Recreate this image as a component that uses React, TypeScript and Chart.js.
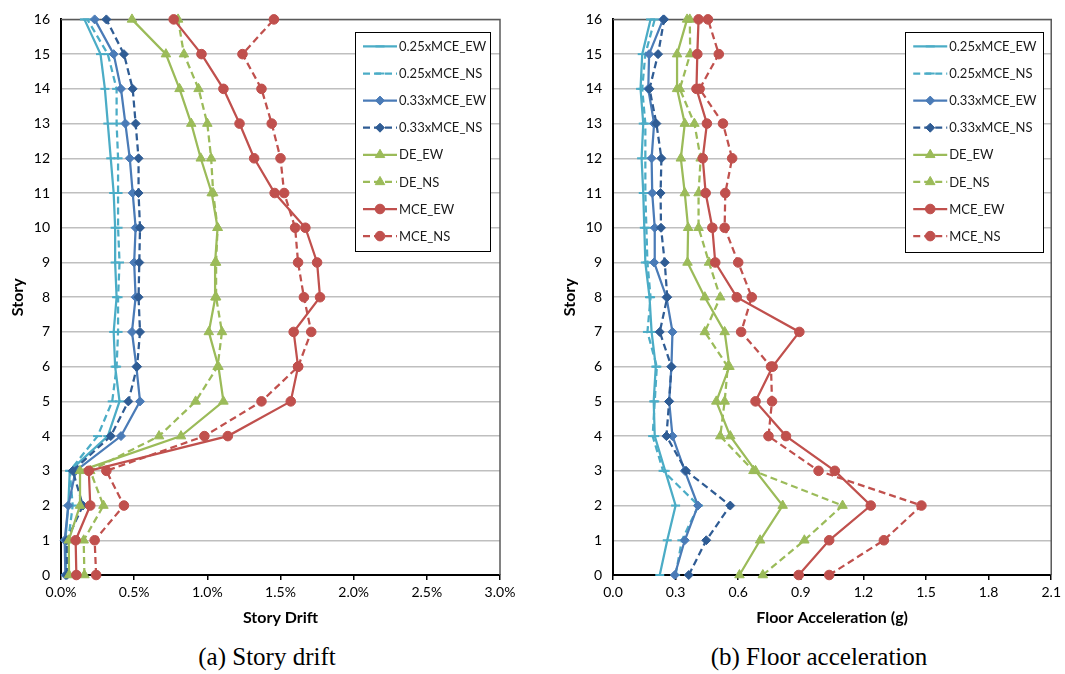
import React, { useEffect, useRef } from 'react';
import { Chart, registerables } from 'chart.js';

Chart.register(...registerables);

const STORIES = [0, 1, 2, 3, 4, 5, 6, 7, 8, 9, 10, 11, 12, 13, 14, 15, 16];
const SERIES_NAMES = ['0.25xMCE_EW', '0.25xMCE_NS', '0.33xMCE_EW', '0.33xMCE_NS', 'DE_EW', 'DE_NS', 'MCE_EW', 'MCE_NS'];
const DRIFT_TICKS = [0, 0.5, 1.0, 1.5, 2.0, 2.5, 3.0];
const ACC_TICKS = [0, 0.3, 0.6, 0.9, 1.2, 1.5, 1.8, 2.1];

// Story drift (%), stories 0..16
const DRIFT_025_EW = [0.035, 0.03, 0.05, 0.06, 0.32, 0.40, 0.37, 0.36, 0.38, 0.37, 0.37, 0.36, 0.34, 0.32, 0.30, 0.27, 0.16];
const DRIFT_025_NS = [0.04, 0.05, 0.08, 0.06, 0.25, 0.35, 0.38, 0.39, 0.39, 0.40, 0.39, 0.39, 0.39, 0.38, 0.38, 0.32, 0.18];
const DRIFT_033_EW = [0.03, 0.025, 0.05, 0.10, 0.41, 0.54, 0.515, 0.485, 0.51, 0.50, 0.51, 0.49, 0.47, 0.44, 0.41, 0.36, 0.23];
const DRIFT_033_NS = [0.04, 0.04, 0.15, 0.08, 0.34, 0.46, 0.52, 0.54, 0.53, 0.535, 0.54, 0.53, 0.53, 0.51, 0.49, 0.43, 0.31];
const DRIFT_DE_EW = [0.055, 0.053, 0.13, 0.13, 0.82, 1.11, 1.076, 1.01, 1.055, 1.053, 1.07, 1.03, 0.955, 0.89, 0.81, 0.717, 0.485];
const DRIFT_DE_NS = [0.16, 0.155, 0.29, 0.20, 0.67, 0.92, 1.07, 1.10, 1.06, 1.06, 1.07, 1.04, 1.026, 1.00, 0.94, 0.84, 0.80];
const DRIFT_MCE_EW = [0.105, 0.10, 0.20, 0.19, 1.14, 1.57, 1.62, 1.59, 1.77, 1.75, 1.67, 1.46, 1.32, 1.22, 1.11, 0.96, 0.77];
const DRIFT_MCE_NS = [0.24, 0.23, 0.43, 0.31, 0.98, 1.37, 1.62, 1.71, 1.66, 1.62, 1.60, 1.525, 1.50, 1.44, 1.37, 1.24, 1.455];

// Floor acceleration (g), stories 0..16
const ACC_025_EW = [0.224, 0.26, 0.30, 0.25, 0.20, 0.195, 0.205, 0.185, 0.175, 0.155, 0.15, 0.145, 0.137, 0.145, 0.132, 0.14, 0.18];
const ACC_025_NS = [0.30, 0.33, 0.41, 0.24, 0.19, 0.20, 0.21, 0.165, 0.18, 0.165, 0.16, 0.155, 0.155, 0.155, 0.14, 0.155, 0.20];
const ACC_033_EW = [0.296, 0.344, 0.407, 0.344, 0.285, 0.269, 0.28, 0.285, 0.256, 0.197, 0.20, 0.188, 0.185, 0.197, 0.169, 0.173, 0.24];
const ACC_033_NS = [0.363, 0.447, 0.562, 0.35, 0.256, 0.269, 0.28, 0.224, 0.26, 0.248, 0.23, 0.228, 0.232, 0.208, 0.175, 0.216, 0.245];
const ACC_DE_EW = [0.606, 0.705, 0.813, 0.683, 0.562, 0.495, 0.558, 0.535, 0.44, 0.357, 0.36, 0.344, 0.325, 0.344, 0.307, 0.307, 0.355];
const ACC_DE_NS = [0.718, 0.917, 1.10, 0.673, 0.514, 0.535, 0.55, 0.44, 0.514, 0.46, 0.41, 0.41, 0.42, 0.39, 0.32, 0.37, 0.368];
const ACC_MCE_EW = [0.89, 1.036, 1.235, 1.063, 0.829, 0.683, 0.765, 0.893, 0.593, 0.49, 0.476, 0.444, 0.43, 0.45, 0.40, 0.404, 0.41];
const ACC_MCE_NS = [1.036, 1.298, 1.478, 0.985, 0.745, 0.762, 0.757, 0.614, 0.665, 0.60, 0.535, 0.538, 0.571, 0.527, 0.415, 0.507, 0.455];

const DRIFT_SERIES = [DRIFT_025_EW, DRIFT_025_NS, DRIFT_033_EW, DRIFT_033_NS, DRIFT_DE_EW, DRIFT_DE_NS, DRIFT_MCE_EW, DRIFT_MCE_NS];
const ACC_SERIES = [ACC_025_EW, ACC_025_NS, ACC_033_EW, ACC_033_NS, ACC_DE_EW, ACC_DE_NS, ACC_MCE_EW, ACC_MCE_NS];

const COLORS = ['#4BACC6', '#4BACC6', '#4A7BB7', '#2F5C94', '#9BBB59', '#9BBB59', '#C0504D', '#C0504D'];
const DASHED = [false, true, false, true, false, true, false, true];
const MARKERS = ['line', 'line', 'rectRot', 'rectRot', 'triangle', 'triangle', 'circle', 'circle'];
const RADII = [4.5, 4.5, 4.5, 4.5, 5.5, 5.5, 4.8, 4.8];
const DASH = [7, 4];
const FONT = 'Lato, "Open Sans", sans-serif';

function drawMarker(ctx: CanvasRenderingContext2D, style: string, x: number, y: number, r: number, color: string) {
  ctx.save();
  ctx.fillStyle = color;
  ctx.strokeStyle = color;
  ctx.setLineDash([]);
  ctx.beginPath();
  if (style === 'circle') {
    ctx.lineWidth = 1;
    ctx.arc(x, y, r, 0, Math.PI * 2);
    ctx.fill();
    ctx.stroke();
  } else if (style === 'triangle') {
    ctx.lineWidth = 1;
    for (let k = 0; k < 3; k++) {
      const a = (k * 2 * Math.PI) / 3;
      const px = x + Math.sin(a) * r;
      const py = y - Math.cos(a) * r;
      if (k === 0) ctx.moveTo(px, py); else ctx.lineTo(px, py);
    }
    ctx.closePath();
    ctx.fill();
    ctx.stroke();
  } else if (style === 'rectRot') {
    ctx.lineWidth = 1;
    ctx.moveTo(x, y - r);
    ctx.lineTo(x + r, y);
    ctx.lineTo(x, y + r);
    ctx.lineTo(x - r, y);
    ctx.closePath();
    ctx.fill();
    ctx.stroke();
  } else if (style === 'line') {
    ctx.lineWidth = 2;
    ctx.moveTo(x - r, y);
    ctx.lineTo(x + r, y);
    ctx.stroke();
  }
  ctx.restore();
}

function makeLegend(rightGap: number, width: number, height: number) {
  return {
    id: 'profLegend',
    afterDatasetsDraw(chart: any) {
      const { ctx, chartArea } = chart;
      const left = chartArea.right - rightGap - width;
      const top = chartArea.top + 13;
      ctx.save();
      ctx.fillStyle = '#ffffff';
      ctx.fillRect(left, top, width, height);
      ctx.strokeStyle = '#000000';
      ctx.lineWidth = 1;
      ctx.strokeRect(Math.round(left) + 0.5, Math.round(top) + 0.5, width, height);
      SERIES_NAMES.forEach((name, i) => {
        const y = top + 14 + i * 27.1;
        ctx.strokeStyle = COLORS[i];
        ctx.lineWidth = 2.25;
        ctx.setLineDash(DASHED[i] ? DASH : []);
        ctx.beginPath();
        ctx.moveTo(left + 8, y);
        ctx.lineTo(left + 42, y);
        ctx.stroke();
        ctx.setLineDash([]);
        drawMarker(ctx, MARKERS[i], left + 25, y, RADII[i], COLORS[i]);
        ctx.fillStyle = '#1a1a1a';
        ctx.font = '13px ' + FONT;
        ctx.textBaseline = 'middle';
        ctx.textAlign = 'left';
        ctx.fillText(name, left + 44, y + 0.5);
      });
      ctx.restore();
    },
  };
}

const framePlugin = {
  id: 'frameLines',
  beforeDatasetsDraw(chart: any) {
    const { ctx, chartArea } = chart;
    ctx.save();
    ctx.strokeStyle = '#595959';
    ctx.lineWidth = 1.5;
    ctx.beginPath();
    ctx.moveTo(chartArea.left, chartArea.top);
    ctx.lineTo(chartArea.right, chartArea.top);
    ctx.lineTo(chartArea.right, chartArea.bottom);
    ctx.stroke();
    ctx.restore();
  },
};

type ProfileProps = {
  series: number[][];
  ticks: number[];
  fmt: (v: number) => string;
  title: string;
  left: number;
  width: number;
  padRight: number;
  legendGap: number;
  legendWidth: number;
  legendHeight: number;
};

function ProfileChart(p: ProfileProps) {
  const ref = useRef<HTMLCanvasElement>(null);
  useEffect(() => {
    if (!ref.current) return;
    const datasets = p.series.map((vals, i) => ({
      label: SERIES_NAMES[i],
      data: vals.map((v, k) => ({ x: v, y: STORIES[k] })),
      showLine: true,
      borderColor: COLORS[i],
      backgroundColor: COLORS[i],
      borderWidth: 2.25,
      borderDash: DASHED[i] ? DASH : [],
      pointStyle: MARKERS[i],
      pointRadius: RADII[i],
      pointHoverRadius: RADII[i],
      pointBorderWidth: MARKERS[i] === 'line' ? 2 : 1,
      pointBackgroundColor: COLORS[i],
      pointBorderColor: COLORS[i],
      clip: false,
      order: -i,
      tension: 0,
    }));
    const chart = new Chart(ref.current, {
      type: 'scatter',
      data: { datasets } as any,
      options: {
        animation: false,
        responsive: false,
        maintainAspectRatio: false,
        layout: { padding: { left: 0, right: p.padRight, top: 15, bottom: 0 } },
        plugins: { legend: { display: false }, tooltip: { enabled: false } },
        scales: {
          x: {
            type: 'linear',
            min: p.ticks[0],
            max: p.ticks[p.ticks.length - 1],
            afterBuildTicks: (s: any) => {
              s.ticks = p.ticks.map((v) => ({ value: v }));
            },
            afterFit: (s: any) => {
              s.height = 65;
            },
            ticks: {
              callback: (v: any) => p.fmt(Number(v)),
              font: { family: FONT, size: 14 },
              color: '#000',
              padding: 4,
              maxRotation: 0,
              autoSkip: false,
            },
            grid: { drawOnChartArea: false, drawTicks: true, tickLength: 5, color: '#000', lineWidth: 1.5 },
            border: { color: '#000', width: 2 },
            title: {
              display: true,
              text: p.title,
              font: { family: FONT, size: 16, weight: 'bold' },
              color: '#000',
              padding: { top: 0, bottom: 13 },
            },
          },
          y: {
            type: 'linear',
            min: 0,
            max: 16,
            afterBuildTicks: (s: any) => {
              s.ticks = STORIES.map((v) => ({ value: v }));
            },
            afterFit: (s: any) => {
              s.width = 61;
            },
            ticks: {
              font: { family: FONT, size: 14 },
              color: '#000',
              padding: 11,
              autoSkip: false,
            },
            grid: {
              drawTicks: false,
              lineWidth: 1.5,
              color: (c: any) => (c.tick && c.tick.value === 0 ? 'rgba(0,0,0,0)' : '#BFBFBF'),
            },
            border: { color: '#000', width: 2 },
            title: {
              display: true,
              text: 'Story',
              font: { family: FONT, size: 16, weight: 'bold' },
              color: '#000',
              padding: { top: 8, bottom: 0 },
            },
          },
        },
      } as any,
      plugins: [framePlugin, makeLegend(p.legendGap, p.legendWidth, p.legendHeight)],
    });
    return () => chart.destroy();
  }, []);
  return (
    <canvas
      ref={ref}
      width={p.width}
      height={640}
      style={{ position: 'absolute', left: p.left, top: 0, width: p.width, height: 640 }}
    />
  );
}

export default function App() {
  const caption: React.CSSProperties = {
    position: 'absolute',
    top: 642,
    height: 30,
    lineHeight: '30px',
    fontFamily: '"Liberation Serif", "Times New Roman", serif',
    fontSize: 25,
    color: '#000',
    textAlign: 'center',
    whiteSpace: 'nowrap',
  };
  return (
    <div style={{ position: 'absolute', left: 0, top: 0, width: 1065, height: 674, background: '#fff', overflow: 'hidden' }}>
      <ProfileChart
        series={DRIFT_SERIES}
        ticks={DRIFT_TICKS}
        fmt={(v) => v.toFixed(1) + '%'}
        title="Story Drift"
        left={0}
        width={540}
        padRight={40}
        legendGap={10}
        legendWidth={135}
        legendHeight={219}
      />
      <ProfileChart
        series={ACC_SERIES}
        ticks={ACC_TICKS}
        fmt={(v) => v.toFixed(1)}
        title="Floor Acceleration (g)"
        left={552}
        width={513}
        padRight={12}
        legendGap={8}
        legendWidth={138}
        legendHeight={220}
      />
      <div style={{ ...caption, left: 117, width: 300 }}>(a) Story drift</div>
      <div style={{ ...caption, left: 669, width: 300 }}>(b) Floor acceleration</div>
    </div>
  );
}
